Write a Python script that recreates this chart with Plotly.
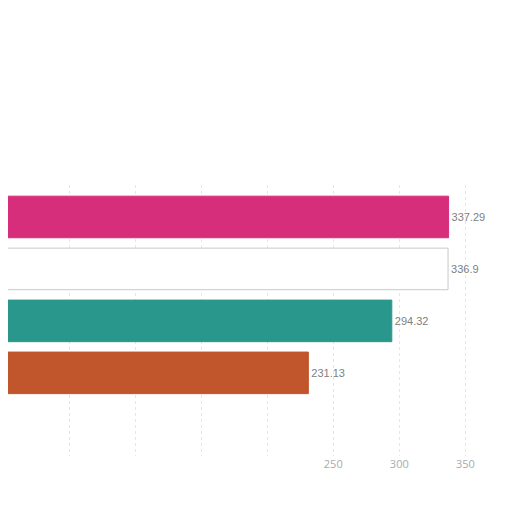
import plotly.graph_objects as go

categories = ["A", "B", "C", "D"]
values = [337.29, 336.9, 294.32, 231.13]
colors = ["#d62e7b", "#ffffff", "#2a978c", "#c1552c"]
line_colors = ["#d62e7b", "#c8c8c8", "#2a978c", "#c1552c"]
labels = ["337.29", "336.9", "294.32", "231.13"]

fig = go.Figure(go.Bar(
    y=categories, x=values, orientation="h",
    marker=dict(color=colors, line=dict(color=line_colors, width=1)),
    text=labels, textposition="outside", cliponaxis=False,
    textfont=dict(color="#808080", size=11, family="Arial"),
    width=0.8,
))

fig.update_layout(
    width=512, height=512,
    margin=dict(l=0, r=15, t=177, b=64),
    paper_bgcolor="white", plot_bgcolor="white",
    showlegend=False,
    xaxis=dict(range=[3.8, 380], tickvals=[0, 50, 100, 150, 200, 250, 300, 350],
               ticktext=["", "", "", "", "", "250", "300", "350"],
               showgrid=True, gridcolor="#e6e6e6", griddash="dot",
               zeroline=False, tickfont=dict(color="#aaaaaa", size=11)),
    yaxis=dict(range=[4.6, -0.615], showticklabels=False, showgrid=False,
               zeroline=False),
)

fig.write_html("out.html")
